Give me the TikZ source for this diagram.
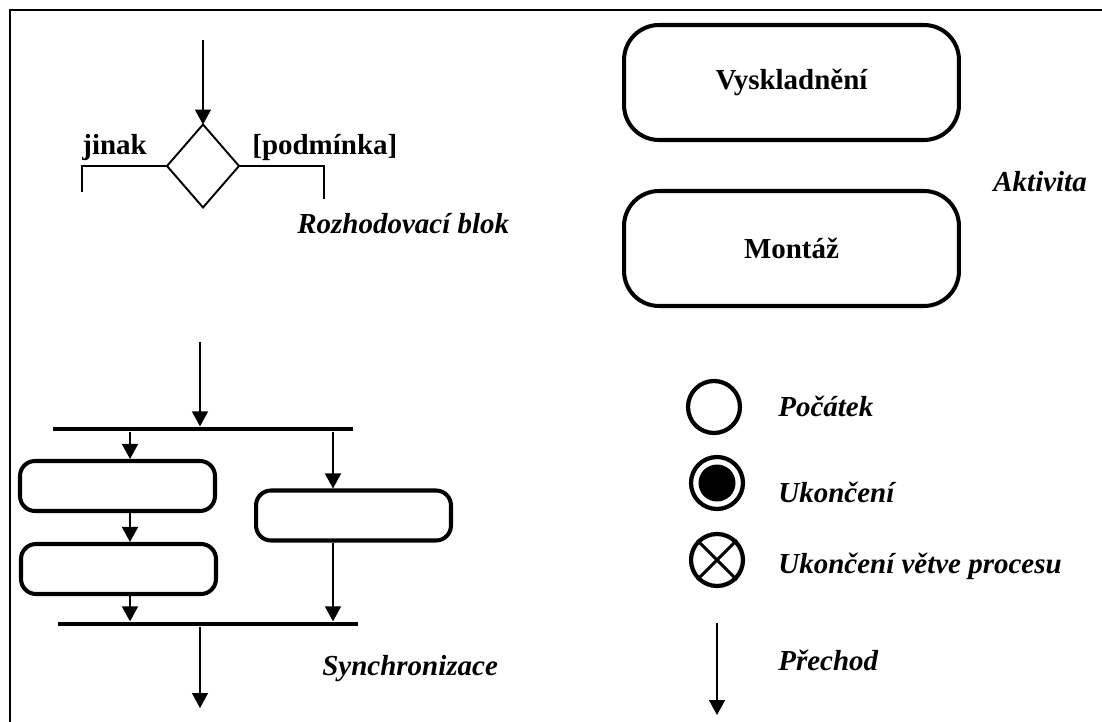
\documentclass[tikz,border=0pt]{standalone}
\usepackage{fontspec}
\setmainfont{Liberation Serif}
\usetikzlibrary{arrows.meta,shapes.geometric}
\begin{document}
\begin{tikzpicture}[x=0.02cm,y=-0.02cm,
  txt/.style={font=\fontsize{16.5}{20}\selectfont\bfseries, inner sep=0pt},
  lbl/.style={font=\fontsize{16.5}{20}\selectfont\bfseries\itshape, inner sep=0pt, anchor=base west},
  arr/.style={line width=0.9pt, -{Triangle[width=0.32cm,length=0.3cm]}},
  wire/.style={line width=0.9pt},
  bigact/.style={draw, line width=2.3pt, rounded corners=0.7cm, minimum width=6.7cm, minimum height=2.3cm, inner sep=0pt},
  smallact/.style={draw, line width=2.3pt, rounded corners=0.3cm, minimum width=3.9cm, minimum height=1.0cm, inner sep=0pt},
  syncbar/.style={fill=black, inner sep=0pt, minimum height=0.09cm},
  legcirc/.style={draw, circle, line width=2.4pt, minimum size=1.04cm, inner sep=0pt},
  decision/.style={draw, diamond, line width=1.1pt, minimum width=1.44cm, minimum height=1.66cm, inner sep=0pt, outer sep=0pt}
]
\useasboundingbox (0,0) rectangle (1102,722);

% cropped frame
\draw[line width=0.9pt] (9,10) -- (1102,10);
\draw[line width=0.9pt] (10,10) -- (10,722);

% --- decision block ---
\node[decision] (dec) at (203,166) {};
\coordinate (decin) at (203,40);
\coordinate (jl) at (82,166);
\coordinate (jld) at (82,192);
\coordinate (pr) at (324,166);
\coordinate (prd) at (324,199);
\draw[arr] (decin) -- (dec.north);
\draw[wire] (dec.west) -- (jl) -- (jld);
\draw[wire] (dec.east) -- (pr) -- (prd);
\node[txt, anchor=base west] (jinak) at (82,155) {jinak};
\node[txt, anchor=base west] (podm) at (252,155) {[podmínka]};
\node[lbl] (rozh) at (297,234) {Rozhodovací blok};

% --- activities ---
\node[bigact, txt] (vysk) at (791.5,82.5) {Vyskladnění};
\node[bigact, txt] (mont) at (791.5,248.5) {Montáž};
\node[lbl] (akt) at (993,192) {Aktivita};

% --- synchronisation ---
\node[syncbar, minimum width=6.0cm] (fork) at (203,429) {};
\node[syncbar, minimum width=6.0cm] (join) at (208,624) {};
\node[smallact] (a1) at (117.5,486) {};
\node[smallact] (a2) at (118.5,569) {};
\node[smallact] (a3) at (353.5,515.5) {};
\coordinate (forkin) at (200,342);
\coordinate (joinout) at (200,708);
\coordinate (lcol) at (130,0);
\coordinate (rcol) at (333,0);
\draw[arr] (forkin) -- (forkin |- fork.north);
\draw[arr] (lcol |- fork.south) -- (lcol |- a1.north);
\draw[arr] (rcol |- fork.south) -- (rcol |- a3.north);
\draw[arr] (lcol |- a1.south) -- (lcol |- a2.north);
\draw[arr] (lcol |- a2.south) -- (lcol |- join.north);
\draw[arr] (rcol |- a3.south) -- (rcol |- join.north);
\draw[arr] (joinout |- join.south) -- (joinout);
\node[lbl] (sync) at (322,675) {Synchronizace};

% --- legend ---
\node[legcirc] (start) at (714,407) {};
\node[lbl] (startl) at (778,417) {Počátek};

\node[legcirc] (stop) at (717,483) {};
\fill (stop.center) circle (0.37cm);
\node[lbl] (stopl) at (778,502) {Ukončení};

\node[legcirc] (flow) at (717,560) {};
\draw[line width=1.8pt] (flow.north west) -- (flow.south east);
\draw[line width=1.8pt] (flow.north east) -- (flow.south west);
\node[lbl] (flowl) at (778,573) {Ukončení větve procesu};

\coordinate (trs) at (717,623);
\coordinate (tre) at (717,715);
\draw[arr] (trs) -- (tre);
\node[lbl] (trl) at (778,670) {Přechod};
\end{tikzpicture}
\end{document}
